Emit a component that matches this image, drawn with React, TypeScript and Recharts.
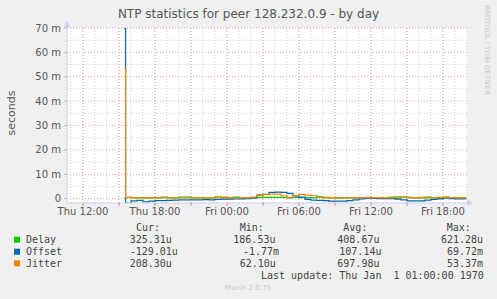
import React from "react";
import { LineChart, Line, XAxis, YAxis, CartesianGrid } from "recharts";

// hours since Thu 00:00
const hours = [
  15.45, 15.55, 16, 16.5, 17, 17.5, 18, 18.5, 19, 19.5, 20, 20.5, 21, 21.5, 22, 22.5, 23, 23.5,
  24, 24.5, 25, 25.5, 26, 26.5, 27, 27.5, 28, 28.5, 29, 29.5, 30, 30.5, 31, 31.5,
  32, 32.5, 33, 33.5, 34, 34.5, 35, 35.5, 36, 36.5, 37, 37.5, 38, 38.5, 39, 39.5,
  40, 40.5, 41, 41.5, 42, 42.5, 43, 43.5, 43.9,
];

// values in milliseconds
const delay = [
  0.4, 0.5,
  0.35, 0.35, 0.35, 0.35, 0.35, 0.6, 0.35, 0.35, 0.6, 0.6, 0.35, 0.35, 0.35, 0.35, 0.6, 0.4,
  0.35, 0.6, 0.35, 0.35, 0.35, 0.5, 0.5, 0.5, 0.5, 0.5, 0.35, 0.55, 0.45, 0.45, 0.45, 0.6,
  0.35, 0.35, 0.35, 0.35, 0.35, 0.35, 0.35, 0.35, 0.35, 0.35, 0.35, 0.6, 0.35, 0.6, 0.55, 0.35,
  0.35, 0.6, 0.35, 0.35, 0.6, 0.33, 0.33, 0.33,
  0.33,
];

const offset = [
  69.72, -1.77,
  -0.9, -0.7, -1.3, -1.0, -0.8, -0.8, -0.7, -0.6, -0.5, -0.5, -0.5, -0.5, -0.4, -0.5, -0.3, -0.2,
  -0.2, -0.1, -0.1, 0.0, 0.3, 1.4, 1.8, 2.6, 2.7, 2.6, 2.2, 1.1, 0.6, -0.3, -0.6, -0.7,
  -0.8, -1.0, -1.0, -1.0, -0.8, -0.5, -0.1, 0.2, 0.1, 0.0, 0.0, 0.0, -0.2, -0.5, -0.9, -0.9,
  -0.9, -0.6, -0.3, -0.1, 0.2, 0.0, -0.1, -0.1,
  -0.13,
];

const jitter = [
  53.37, 0.5,
  0.3, 0.3, 0.3, 0.3, 0.35, 0.3, 0.3, 0.3, 0.3, 0.3, 0.3, 0.3, 0.3, 0.3, 0.6, 0.6,
  0.3, 0.3, 0.3, 0.3, 0.7, 1.6, 1.7, 1.9, 1.9, 1.2, 0.4, 1.3, 1.8, 1.5, 1.3, 0.9,
  0.5, 0.3, 0.3, 0.3, 0.3, 0.3, 0.3, 0.5, 0.3, 0.3, 0.3, 0.3, 0.8, 0.6, 0.3, 0.3,
  0.5, 0.3, 0.3, 0.5, 0.5, 0.3, 0.3, 0.3,
  0.21,
];

const labelHours = [12, 18, 24, 30, 36, 42];
const labelTexts = ["Thu 12:00", "Thu 18:00", "Fri 00:00", "Fri 06:00", "Fri 12:00", "Fri 18:00"];
const yTicks = [0, 10, 20, 30, 40, 50, 60, 70];

const legendRows = [
  { name: "Delay", color: "#00CC00", cur: "325.31u", min: "186.53u", avg: "408.67u", max: "621.28u" },
  { name: "Offset", color: "#0066B3", cur: "-129.01u", min: "-1.77m", avg: "107.14u", max: "69.72m" },
  { name: "Jitter", color: "#FF8000", cur: "208.30u", min: "62.10u", avg: "697.98u", max: "53.37m" },
];

const rows = hours.map((h, i) => ({ h, delay: delay[i], offset: offset[i], jitter: jitter[i] }));

const majorX = [12, 15, 18, 21, 24, 27, 30, 33, 36, 39, 42];
const minorX = Array.from({ length: 34 }, (_, i) => 11 + i);
const majorY = yTicks;
const minorY = [5, 15, 25, 35, 45, 55, 65];

const axisColor = "#C8CEF4";
const textColor = "#555";

// column x positions for the legend values (per row)
const colX = {
  cur: [129.7, 129.7, 129.7],
  min: [233.3, 243, 239.7],
  avg: [337.3, 339.3, 337.3],
  max: [441, 447, 447],
};
const rowY = [239.7, 251.7, 263.3];

export default function App() {
  return (
    <div
      style={{
        position: "absolute",
        left: 0,
        top: 0,
        width: 497,
        height: 299,
        background: "#F0F0F0",
        fontFamily: "DejaVu Sans",
      }}
    >
      <LineChart width={497} height={299} data={rows} margin={{ top: 28, right: 30, bottom: 76, left: 0 }}>
        <CartesianGrid
          fill="#FFFFFF"
          stroke="#D2D2D2"
          strokeDasharray="1 2"
          horizontalValues={minorY}
          verticalValues={minorX}
        />
        <CartesianGrid
          stroke="#E9A3A3"
          strokeDasharray="1 2"
          horizontalValues={majorY}
          verticalValues={majorX}
        />
        <XAxis
          dataKey="h"
          type="number"
          domain={[10.667, 44]}
          allowDataOverflow
          ticks={majorX}
          interval={0}
          height={20}
          stroke={axisColor}
          tickSize={3}
          tickMargin={2}
          tickLine={{ stroke: "#E08888" }}
          tick={{ fill: textColor, fontSize: 10, fontFamily: "DejaVu Sans" }}
          tickFormatter={(v: number) => {
            const k = labelHours.indexOf(v);
            return k >= 0 ? labelTexts[k] : "";
          }}
        />
        <YAxis
          type="number"
          domain={[-1.77, 70]}
          allowDataOverflow
          ticks={yTicks}
          interval={0}
          width={67}
          stroke={axisColor}
          tickSize={3}
          tickMargin={3}
          tickLine={{ stroke: "#BBBBBB" }}
          tick={{ fill: textColor, fontSize: 10, fontFamily: "DejaVu Sans" }}
          tickFormatter={(v: number) => (v === 0 ? "0" : `${v} m`)}
        />
        <Line type="stepAfter" dataKey="delay" stroke="#00CC00" strokeWidth={1.2} dot={false} isAnimationActive={false} />
        <Line type="stepAfter" dataKey="offset" stroke="#0066B3" strokeWidth={1.2} dot={false} isAnimationActive={false} />
        <Line type="stepAfter" dataKey="jitter" stroke="#FF8000" strokeWidth={1.2} dot={false} isAnimationActive={false} />
      </LineChart>

      <svg width={497} height={299} style={{ position: "absolute", left: 0, top: 0, pointerEvents: "none" }}>
        {/* axis arrows */}
        <polygon points="64,27 70,27 67,21" fill={axisColor} />
        <polygon points="467,200 467,206 473,203" fill={axisColor} />

        <text x={248.5} y={14} textAnchor="middle" dominantBaseline="central" fontSize={12} fill={textColor}>
          NTP statistics for peer 128.232.0.9 - by day
        </text>
        <text
          x={11}
          y={113}
          textAnchor="middle"
          dominantBaseline="central"
          fontSize={11}
          fill={textColor}
          transform="rotate(-90 11 113)"
        >
          seconds
        </text>
        <text
          x={487}
          y={5}
          textAnchor="start"
          dominantBaseline="central"
          fontSize={7}
          fill="#C8C8C8"
          transform="rotate(90 487 5)"
        >
          RRDTOOL / TOBI OETIKER
        </text>

        <g fontFamily="DejaVu Sans Mono" fontSize={10} fill="#444" dominantBaseline="central">
          <text x={136} y={227.7}>Cur:</text>
          <text x={239.7} y={227.7}>Min:</text>
          <text x={343.3} y={227.7}>Avg:</text>
          <text x={446.7} y={227.7}>Max:</text>
          {legendRows.map((r, i) => (
            <g key={r.name}>
              <rect x={14} y={rowY[i] - 3} width={6} height={6} fill={r.color} />
              <text x={26} y={rowY[i]}>{r.name}</text>
              <text x={colX.cur[i]} y={rowY[i]}>{r.cur}</text>
              <text x={colX.min[i]} y={rowY[i]}>{r.min}</text>
              <text x={colX.avg[i]} y={rowY[i]}>{r.avg}</text>
              <text x={colX.max[i]} y={rowY[i]}>{r.max}</text>
            </g>
          ))}
          <text x={261} y={275.7} style={{ whiteSpace: "pre" }}>
            {"Last update: Thu Jan  1 01:00:00 1970"}
          </text>
        </g>
        <text x={248} y={288} textAnchor="middle" dominantBaseline="central" fontSize={7} fill="#C8C8C8">
          Munin 2.0.75
        </text>
      </svg>
    </div>
  );
}
